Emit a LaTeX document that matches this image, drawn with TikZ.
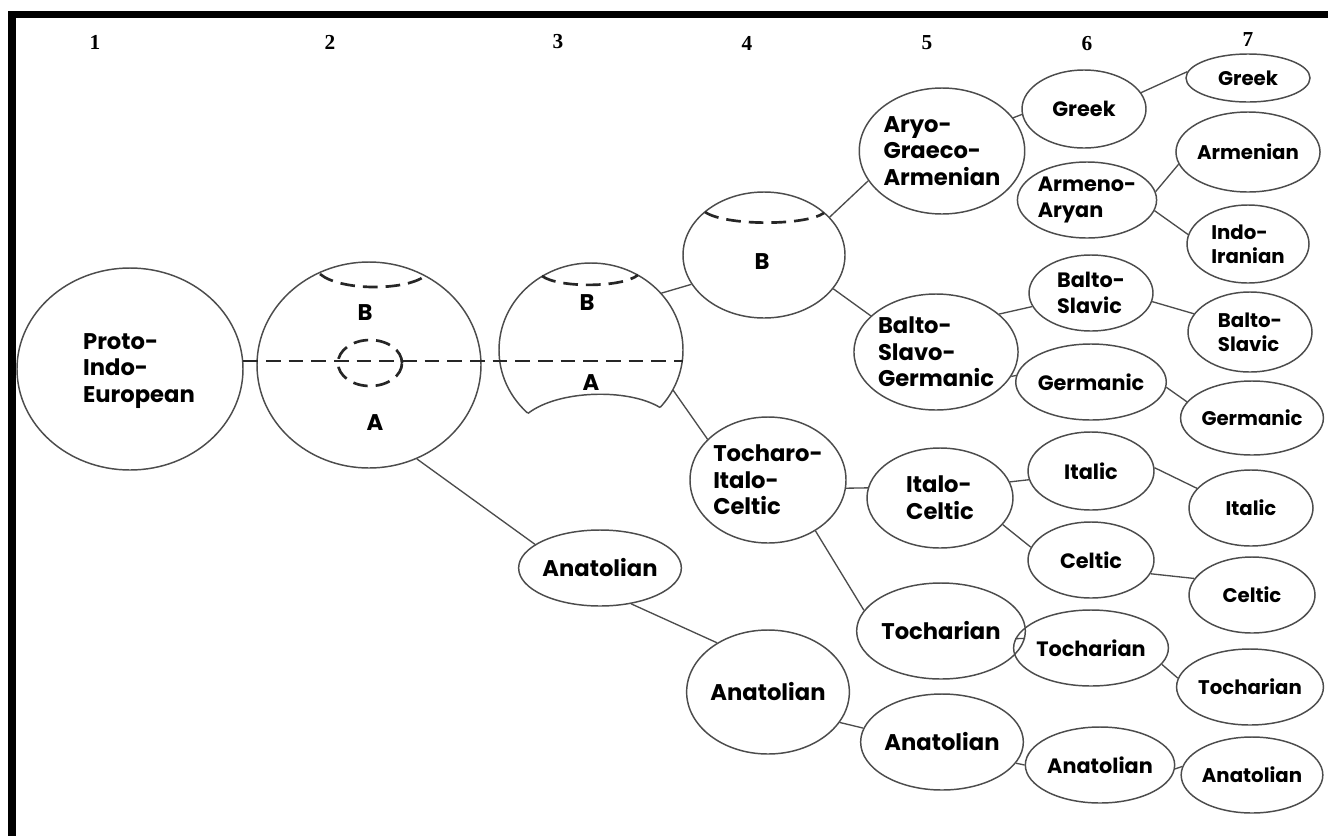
\documentclass[tikz,border=0pt]{standalone}
\usepackage{fontspec}
\setmainfont{Poppins}
\newfontfamily\numfont{Liberation Serif}
\usetikzlibrary{shapes.geometric}
\newcommand\lfA{\fontsize{17}{20}\selectfont\bfseries}
\newcommand\lfB{\fontsize{15.6}{19}\selectfont\bfseries}
\newcommand\lfC{\fontsize{14.8}{18}\selectfont\bfseries}
\begin{document}
\begin{tikzpicture}[x=0.75pt,y=-0.75pt,
  outl/.style={draw=black!70, line width=1.1pt},
  bub/.style 2 args={ellipse, outl, minimum width=#1*1.5pt, minimum height=#2*1.5pt, inner sep=0pt, align=left, font=\lfA},
  c6/.style={font=\lfB},
  c7/.style={font=\lfC},
  conn/.style={draw=black!70, line width=1pt},
  dsh/.style={draw=black!85, line width=2pt, dash pattern=on 11pt off 6pt},
  ltr/.style={font=\lfA},
  num/.style={font=\numfont\bfseries\fontsize{16}{18}\selectfont}]
\useasboundingbox (0,0) rectangle (1328,836);
\fill[white] (0,0) rectangle (1328,836);
% frame
\fill[black] (8,11) rectangle (1328,18);
\fill[black] (8,11) rectangle (16,836);
% column numbers
\node[num] (n1) at (95,42) {1};
\node[num] (n2) at (330,42) {2};
\node[num] (n3) at (558,42) {3};
\node[num] (n4) at (747,43) {4};
\node[num] (n5) at (927,43) {5};
\node[num] (n6) at (1087,44) {6};
\node[num] (n7) at (1248,40) {7};
% column 1
\node[bub={113}{101}] (pie) at (130,369) {};
\node[ltr, align=left] (piet) at (139,371) {Proto-\\Indo-\\European};
% column 2
\node[bub={112}{103}] (c2) at (369,365) {};
\node[ltr] (c2B) at (365,313) {B};
\node[ltr] (c2A) at (375,423) {A};
\node[ellipse, dsh, minimum width=64*0.75pt, minimum height=46*0.75pt, inner sep=0pt] (c2e) at (370,363) {};
\draw[dsh] (320,274) .. controls (340,291) and (405,291) .. (425,276);
% column 3 (truncated sphere)
\node[ellipse, minimum width=184*0.75pt, minimum height=174*0.75pt, inner sep=0pt] (s3) at (591,350) {};
\begin{scope}
\clip (470,240) -- (710,240) -- (710,407.5) -- (660,407.5) .. controls (628,388) and (558,390) .. (528,413.4) -- (470,413.4) -- cycle;
\draw[outl] (591,350) ellipse [x radius=92, y radius=87];
\end{scope}
\draw[outl] (528,413.4) .. controls (558,390) and (628,388) .. (660,407.5);
\draw[dsh] (542,276) .. controls (558,288) and (622,288) .. (638,275);
\node[ltr] (s3B) at (587,303) {B};
\node[ltr] (s3A) at (591,383) {A};
\node[bub={80}{38}] (an3) at (600,568) {Anatolian};
% dashed boundary A/B
\draw[dsh] (pie.4) -- (pie.4 -| s3.east);
% column 4
\node[bub={81}{63}] (c4) at (764,255) {};
\draw[dsh] (705,212) .. controls (725,226) and (805,226) .. (824,213);
\node[ltr] (c4B) at (762,262) {B};
\node[bub={78}{63}] (tic) at (768,480) {Tocharo-\\Italo-\\Celtic};
\node[bub={78}{62}] (an4) at (768,692) {Anatolian};
% column 5
\node[bub={80}{63}] (aga) at (942,151) {Aryo-\\Graeco-\\Armenian};
\node[bub={82}{58}] (bsg) at (936,352) {Balto-\\Slavo-\\Germanic};
\node[bub={73}{50}] (ic) at (940,498) {Italo-\\Celtic};
\node[bub={74}{48}] (to5) at (941,631) {Tocharian};
\node[bub={73}{48}] (an5) at (942,742) {Anatolian};
% column 6
\node[bub={62}{39}, c6] (gr6) at (1084,109) {Greek};
\node[bub={63}{38}, c6] (aa6) at (1087,200) {Armeno-\\Aryan};
\node[bub={62}{38}, c6] (bs6) at (1091,293) {Balto-\\Slavic};
\node[bub={62}{38}, c6] (ge6) at (1091,382) {Germanic};
\node[bub={63}{39}, c6] (it6) at (1091,471) {Italic};
\node[bub={63}{38}, c6] (ce6) at (1091,560) {Celtic};
\node[bub={63}{38}, c6] (to6) at (1091,648) {Tocharian};
\node[bub={64}{38}, c6] (an6) at (1100,765) {Anatolian};
% column 7
\node[bub={62}{24}, c7] (gr7) at (1248,78) {Greek};
\node[bub={60}{40}, c7] (ar7) at (1248,152) {Armenian};
\node[bub={61}{39}, c7] (ii7) at (1248,244) {Indo-\\Iranian};
\node[bub={62}{40}, c7] (bs7) at (1250,332) {Balto-\\Slavic};
\node[bub={62}{37}, c7] (ge7) at (1252,418) {Germanic};
\node[bub={62}{38}, c7] (it7) at (1251,508) {Italic};
\node[bub={63}{38}, c7] (ce7) at (1252,595) {Celtic};
\node[bub={58}{38}, c7] (to7) at (1250,687) {Tocharian};
\node[bub={60}{38}, c7] (an7) at (1252,775) {Anatolian};
% connectors
\draw[conn] (s3.39) -- (c4.-158);
\draw[conn] (c4.30) -- (aga.202);
\draw[conn] (c4.-26) -- (bsg.151);
\draw[conn] (s3.-26) -- (tic.146);
\draw[conn] (c2.-63) -- (an3.160);
\draw[conn] (aga.25) -- (gr6.185);
\draw[conn] (gr6.16) -- (gr7.174);
\draw[conn] (aa6.7) -- (ar7.190);
\draw[conn] (aa6.-9) -- (ii7.171);
\draw[conn] (bsg.31) -- (bs6.193);
\draw[conn] (bsg.-18) -- (ge6.175);
\draw[conn] (bs6.-8) -- (bs7.162);
\draw[conn] (ge6.-4) -- (ge7.166);
\draw[conn] (tic.-6) -- (ic.172);
\draw[conn] (ic.13) -- (it6.188);
\draw[conn] (ic.-23) -- (ce6.168);
\draw[conn] (it6.3) -- (it7.160);
\draw[conn] (ce6.-13) -- (ce7.164);
\draw[conn] (tic.-47) -- (to5.165);
\draw[conn] (to5.-5) -- (to6.173);
\draw[conn] (to6.-13) -- (to7.173);
\draw[conn] (an3.-49) -- (an4.136);
\draw[conn] (an4.-23) -- (an5.170);
\draw[conn] (an5.-16) -- (an6.180);
\draw[conn] (an6.-3) -- (an7.173);
\end{tikzpicture}
\end{document}
